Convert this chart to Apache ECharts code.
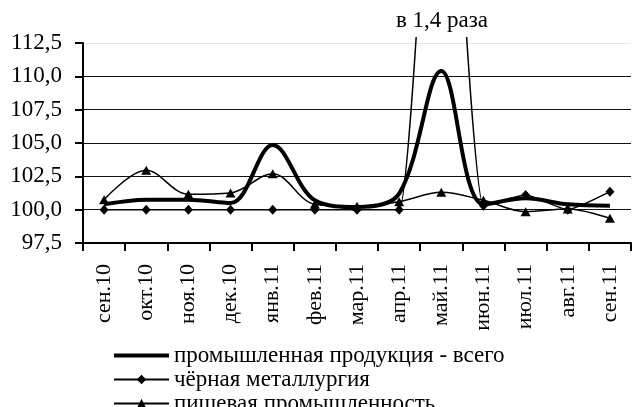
<!DOCTYPE html>
<html>
<head>
<meta charset="utf-8">
<script src="https://cdn.jsdelivr.net/npm/echarts@6/dist/echarts.min.js"></script>
<style>
html, body { margin: 0; padding: 0; background: #fff; }
#chart { width: 633px; height: 407px; }
</style>
</head>
<body>
<div id="chart"></div>
<script>
var months = ['сен.10', 'окт.10', 'ноя.10', 'дек.10', 'янв.11', 'фев.11', 'мар.11',
    'апр.11', 'май.11', 'июн.11', 'июл.11', 'авг.11', 'сен.11'];
var seriesNames = ['промышленная продукция - всего', 'чёрная металлургия', 'пищевая промышленность'];
var industryTotal = [100.4, 100.75, 100.75, 100.5, 104.85, 100.7, 100.2, 101.2, 110.4, 100.4, 100.85, 100.4, 100.3];
var ferrousMetal = [100, 100, 100, 100, 100, 100, 100, 100, 140, 100.3, 101.1, 100, 101.35];
var foodIndustry = [100.75, 102.95, 101.15, 101.25, 102.7, 100.4, 100.25, 100.6, 101.3, 100.7, 99.85, 100.05, 99.35];
var yTicks = { min: 97.5, max: 112.5, step: 2.5 };
var note = 'в 1,4 раза';

var font = 'Liberation Serif';
var chart = echarts.init(document.getElementById('chart'));

function fmt(v) {
    return v.toFixed(1).replace('.', ',');
}

var option = {
    backgroundColor: '#fff',
    animation: false,
    textStyle: { fontFamily: font, color: '#000' },
    grid: { left: 83, right: 2, top: 43, bottom: 164 },
    legend: {
        orient: 'vertical',
        left: 112,
        top: 344,
        height: 90,
        itemWidth: 55,
        itemHeight: 12,
        itemGap: 1,
        padding: 0,
        textStyle: { fontFamily: font, fontSize: 23, lineHeight: 20, color: '#000' },
        data: [
            { name: seriesNames[0], itemStyle: { color: 'rgba(0,0,0,0)', opacity: 0 }, lineStyle: { width: 4 } },
            { name: seriesNames[1] },
            { name: seriesNames[2] }
        ]
    },
    xAxis: {
        type: 'category',
        data: months,
        boundaryGap: true,
        axisLine: { lineStyle: { color: '#000', width: 2 } },
        axisTick: { show: true, length: 8, lineStyle: { color: '#000', width: 2 } },
        axisLabel: { rotate: 90, margin: 21, fontFamily: font, fontSize: 22, color: '#000', interval: 0 },
        splitLine: { show: false }
    },
    yAxis: {
        type: 'value',
        min: yTicks.min,
        max: yTicks.max,
        interval: yTicks.step,
        axisLine: { show: true, lineStyle: { color: '#000', width: 2 } },
        axisTick: { show: true, length: 8, lineStyle: { color: '#000', width: 2 } },
        axisLabel: { margin: 21, fontFamily: font, fontSize: 23, color: '#000', formatter: fmt },
        splitLine: {
            show: true,
            lineStyle: { color: ['#111', '#111', '#111', '#111', '#111', '#111', '#e4e4e4'], width: 1 }
        }
    },
    graphic: [
        { type: 'rect', z: 100, shape: { x: 90, y: 0, width: 543, height: 37 }, style: { fill: '#fff' } },
        {
            type: 'text', z: 101, x: 442, y: 21,
            style: { text: note, fontFamily: font, fontSize: 23, fill: '#000', align: 'center', verticalAlign: 'middle' }
        }
    ],
    series: [
        {
            name: seriesNames[0], type: 'line', data: industryTotal, smooth: 0.35,
            symbol: 'none', clip: false, z: 4,
            lineStyle: { color: '#000', width: 4 },
            itemStyle: { color: '#000' }
        },
        {
            name: seriesNames[1], type: 'line', data: ferrousMetal, smooth: 0.15,
            symbol: 'diamond', symbolSize: [9, 10], clip: false, z: 3,
            lineStyle: { color: '#000', width: 1.5 },
            itemStyle: { color: '#000' }
        },
        {
            name: seriesNames[2], type: 'line', data: foodIndustry, smooth: 0.35,
            symbol: 'triangle', symbolSize: [10, 9], clip: false, z: 3,
            lineStyle: { color: '#000', width: 1.5 },
            itemStyle: { color: '#000' }
        }
    ]
};
chart.setOption(option);
</script>
</body>
</html>
